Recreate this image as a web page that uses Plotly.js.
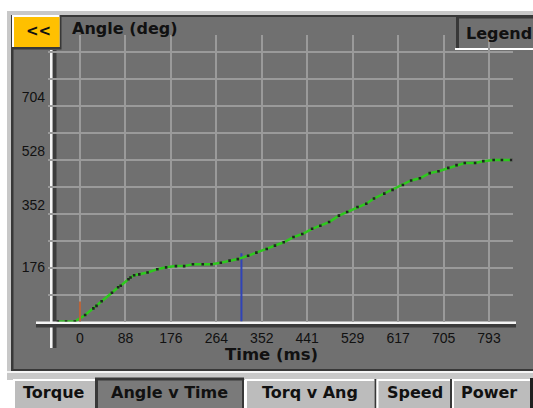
<!DOCTYPE html>
<html>
<head>
<meta charset="utf-8">
<script src="https://cdn.plot.ly/plotly-3.0.1.min.js"></script>
<style>
html,body{margin:0;padding:0;background:#ffffff;}
#chart{width:533px;height:408px;}
</style>
</head>
<body>
<div id="chart"></div>
<script>
// ---- data ----
var timeMs = [-43, -27, -10, 10, 26, 32, 42, 62, 74, 79,
  94, 98, 105, 115, 131, 150, 167, 186, 202, 219,
  238, 255, 273, 290, 306, 326, 342, 362, 378, 395,
  414, 431, 450, 466, 483, 502, 518, 538, 555, 570,
  590, 606, 626, 642, 659, 678, 695, 714, 730, 746,
  766, 782, 802, 818, 836];
var angleDeg = [0, 0, 0, 21, 43, 51, 66, 94, 112, 117,
  138, 144, 151, 154, 160, 171, 177, 181, 181, 187,
  187, 187, 192, 199, 204, 215, 225, 237, 248, 259,
  276, 286, 303, 313, 325, 346, 358, 374, 385, 402,
  418, 430, 446, 461, 468, 485, 491, 502, 511, 518,
  518, 524, 528, 528, 528];
var triggerTime = [0, 0];
var triggerAngle = [0, 65];
var cursorTime = [313, 313];
var cursorAngle = [0, 223];
var xTickVals = [0, 88.11, 176.22, 264.33, 352.44, 440.56, 528.67, 616.78, 704.89, 793];
var xTickText = ["0", "88", "176", "264", "352", "441", "529", "617", "705", "793"];
var yTickVals = [0, 88, 176, 264, 352, 440, 528, 616, 704, 792, 880];
var yTickText = ["", "", "", "", "352", "", "528", "", "704", "", ""];
var yLowTickVals = [176];
var yLowTickText = ["176"];
var tabNames = ["Torque", "Angle v Time", "Torq v Ang", "Speed", "Power"];
var chartTitle = "Angle (deg)";
var xTitle = "Time (ms)";

// ---- layout helpers (pixel -> paper) ----
var W = 533, H = 408;
function px(x){ return x / W; }
function py(y){ return 1 - y / H; }
function rect(x0, y0, x1, y1, color, layer){
  return {type:"rect", xref:"paper", yref:"paper", x0:px(x0), x1:px(x1), y0:py(y1), y1:py(y0),
          fillcolor:color, line:{width:0}, layer:layer || "below"};
}
var PANEL = "#707070", DARK = "#383838", LIGHT = "#c8c8c8", TAB = "#bcbcbc", GRID = "#9a9a9a";

var shapes = [
  rect(7, 11, 533, 380, LIGHT),
  rect(11, 15, 533, 371, DARK),
  rect(13.5, 17, 533, 369, PANEL),
  rect(7, 371, 533, 373, "#f4f4f4"),
  // "<<" button
  rect(12, 15, 61.5, 49.5, DARK),
  rect(12, 15, 59.5, 47, "#ffffff"),
  rect(14, 17, 59.5, 47, "#ffc000"),
  // Legend button
  rect(456, 16, 533, 50, DARK),
  rect(455, 48, 533, 50, "#ffffff"),
  rect(459, 18.5, 533, 48, PANEL),
  // tabs
  rect(13, 379, 95, 408, "#ffffff"),
  rect(15, 381, 95, 408, TAB),
  rect(95, 377.5, 244, 408, DARK),
  rect(98, 380.5, 242, 408, "#7a7a7a"),
  rect(245, 379, 374.5, 408, "#ffffff"),
  rect(247, 381, 374.5, 408, TAB),
  rect(374.5, 379, 376.5, 408, DARK),
  rect(376.5, 379, 450, 408, "#ffffff"),
  rect(378.5, 381, 450, 408, TAB),
  rect(450, 379, 452, 408, DARK),
  rect(452, 379, 530, 408, "#ffffff"),
  rect(454, 381, 530, 408, TAB),
  rect(530, 378, 533, 408, "#202020"),
  // axis lines (white with dark shadow)
  rect(52.5, 50, 56.5, 348, "#3c3c3c", "between"),
  rect(50, 50, 52.5, 348, "#f4f4f4", "between"),
  rect(36, 324, 516, 327.5, "#3c3c3c", "between"),
  rect(36, 321.5, 516, 324, "#f4f4f4", "between")
];

var BOLD = "DejaVu Sans Bold, DejaVu Sans";
function label(text, x, y, size, xanchor){
  return {text:text, xref:"paper", yref:"paper", x:px(x), y:py(y), showarrow:false,
          xanchor:xanchor || "center", yanchor:"middle",
          font:{family:BOLD, size:size, color:"#111111", weight:"bold"}};
}
var tabCenters = [54, 169.5, 310, 414.5, 489];
var annotations = [
  label("<<", 38, 31, 15),
  label(chartTitle, 70, 29, 16, "left"),
  label("Legend", 464, 33, 16, "left"),
  label(xTitle, 271, 354, 16.5)
];
for (var i = 0; i < tabNames.length; i++) {
  annotations.push(label(tabNames[i], tabCenters[i], 392, 16));
}

var traces = [
  {x:triggerTime, y:triggerAngle, type:"scatter", mode:"lines", yaxis:"y2",
   line:{color:"#b8643a", width:2}, hoverinfo:"skip", showlegend:false},
  {x:cursorTime, y:cursorAngle, type:"scatter", mode:"lines",
   line:{color:"#3044b8", width:2}, hoverinfo:"skip", showlegend:false},
  {x:timeMs, y:angleDeg, type:"scatter", mode:"lines+markers",
   line:{color:"#2ec81e", width:2.5}, marker:{color:"#222222", size:2.6, symbol:"square"},
   hoverinfo:"skip", showlegend:false}
];

var tickFont = {family:"Liberation Sans, Arial", size:14, color:"#111111"};
var yDomain = [py(321.5), py(35)];
var yRange = [0, 936.3];
var layout = {
  width:W, height:H,
  margin:{l:0, r:0, t:0, b:0, pad:0},
  paper_bgcolor:"#ffffff",
  plot_bgcolor:"rgba(0,0,0,0)",
  showlegend:false,
  xaxis:{domain:[px(48), px(513)], range:[-62.0, 839.5], fixedrange:true,
         tickmode:"array", tickvals:xTickVals, ticktext:xTickText,
         showgrid:true, gridcolor:GRID, gridwidth:2, zeroline:false, showline:false,
         ticks:"", tickfont:tickFont, ticklabelstandoff:6, automargin:false},
  yaxis:{domain:yDomain, range:yRange, fixedrange:true,
         tickmode:"array", tickvals:yTickVals, ticktext:yTickText,
         showgrid:true, gridcolor:GRID, gridwidth:2, zeroline:false, showline:false,
         ticks:"", tickfont:tickFont, ticklabelshift:-9, ticklabelstandoff:2, automargin:false},
  yaxis2:{range:yRange, fixedrange:true, overlaying:"y", side:"left",
         anchor:"x", tickmode:"array", tickvals:yLowTickVals, ticktext:yLowTickText,
         showgrid:false, zeroline:false, showline:false,
         ticks:"", tickfont:tickFont, ticklabelshift:-1, ticklabelstandoff:2, automargin:false},
  shapes:shapes,
  annotations:annotations
};

Plotly.newPlot("chart", traces, layout, {staticPlot:true, displayModeBar:false});
</script>
</body>
</html>
